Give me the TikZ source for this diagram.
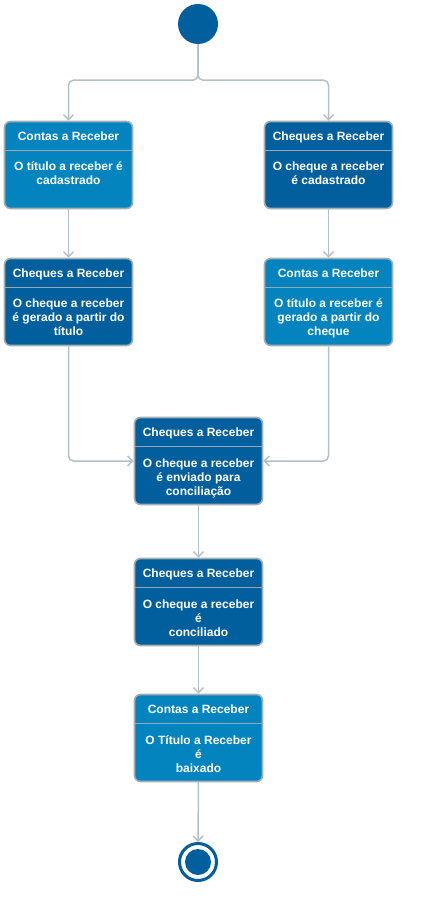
\documentclass[tikz,border=0pt]{standalone}
\usepackage{fontspec}
\setmainfont{Liberation Sans}
\usetikzlibrary{arrows.meta}
\definecolor{lightblue}{RGB}{3,132,190}
\definecolor{darkblue}{RGB}{2,95,158}
\definecolor{boxborder}{RGB}{163,175,181}
\definecolor{sepline}{RGB}{150,168,180}
\definecolor{conncol}{RGB}{178,192,199}
\tikzset{
  actbox/.style={draw=boxborder, line width=1.6pt, rounded corners=6pt,
    minimum width=128pt, minimum height=87pt, inner sep=0pt},
  lightbox/.style={actbox, fill=lightblue},
  darkbox/.style={actbox, fill=darkblue},
  titletext/.style={text=white, font=\bfseries\fontsize{12}{14}\selectfont, inner sep=0pt, anchor=base},
  bodytext/.style={text=white, font=\bfseries\fontsize{12}{14}\selectfont, align=center, inner sep=0pt, anchor=base},
  conn/.style={draw=conncol, line width=1.5pt, -{Straight Barb[length=5pt,width=10pt,line width=1.5pt]}, rounded corners=5pt},
}
\newcommand{\actnode}[7]{%
  % #1 name, #2 style, #3 x, #4 y, #5 title, #6 body, #7 yshift of last baseline
  \node[#2] (#1) at (#3,#4) {};
  \draw[sepline, line width=1.2pt] ([yshift=-30pt,xshift=0.8pt]#1.north west) -- ([yshift=-30pt,xshift=-0.8pt]#1.north east);
  \node[titletext] (#1t) at ([yshift=-20pt]#1.north) {#5};
  \node[bodytext] (#1b) at ([yshift=-#7pt]#1.north) {#6};
}
\begin{document}
\begin{tikzpicture}[x=1pt,y=-1pt]
\useasboundingbox (0,0) rectangle (421,901);
\node[circle, fill=darkblue, minimum size=40pt, inner sep=0pt] (start) at (198,24) {};
\actnode{a1}{lightbox}{68.5}{165}{Contas a Receber}{O título a receber é\\cadastrado}{63.5}
\actnode{c1}{darkbox}{328.5}{165}{Cheques a Receber}{O cheque a receber\\é cadastrado}{63.5}
\actnode{a2}{darkbox}{68.5}{302}{Cheques a Receber}{O cheque a receber\\é gerado a partir do\\título}{77.5}
\actnode{c2}{lightbox}{328.5}{302}{Contas a Receber}{O título a receber é\\gerado a partir do\\cheque}{77.5}
\actnode{m1}{darkbox}{198.5}{461}{Cheques a Receber}{O cheque a receber\\é enviado para\\conciliação}{78.5}
\actnode{m2}{darkbox}{198.5}{602}{Cheques a Receber}{O cheque a receber\\é\\conciliado}{78.5}
\actnode{m3}{lightbox}{198.5}{738}{Contas a Receber}{O Título a Receber\\é\\baixado}{78.5}
\node[circle, draw=darkblue, line width=3pt, fill=white, minimum size=37pt, inner sep=0pt] (end) at (198,862) {};
\node[circle, fill=darkblue, minimum size=26pt, inner sep=0pt] (endin) at (198,862) {};
\draw[conn] (start.south) -- ++(0,36) -| (a1.north);
\draw[conn] (start.south) -- ++(0,36) -| (c1.north);
\draw[conn] (a1.south) -- (a2.north);
\draw[conn] (c1.south) -- (c2.north);
\draw[conn] (a2.south) |- (m1.west);
\draw[conn] (c2.south) |- (m1.east);
\draw[conn] (m1.south) -- (m2.north);
\draw[conn] (m2.south) -- (m3.north);
\draw[conn] (m3.south) -- (end.north);
\end{tikzpicture}
\end{document}
